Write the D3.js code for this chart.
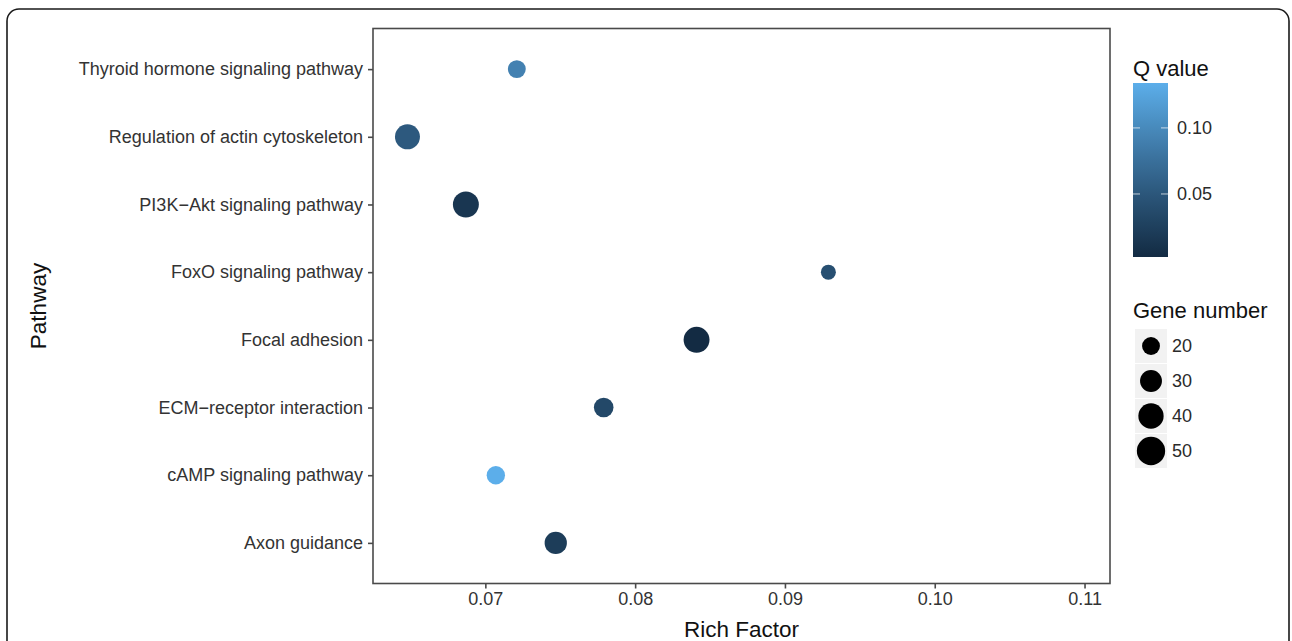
<!DOCTYPE html>
<html>
<head>
<meta charset="utf-8">
<script src="https://cdn.jsdelivr.net/npm/d3@7"></script>
<style>
  html, body { margin: 0; padding: 0; background: #fff; }
  svg { display: block; font-family: "Liberation Sans", Arial, Helvetica, sans-serif; }
</style>
</head>
<body>
<svg id="chart" width="1292" height="641"></svg>
<script>
// ---- data ----
const pathways = [
  "Thyroid hormone signaling pathway",
  "Regulation of actin cytoskeleton",
  "PI3K\u2212Akt signaling pathway",
  "FoxO signaling pathway",
  "Focal adhesion",
  "ECM\u2212receptor interaction",
  "cAMP signaling pathway",
  "Axon guidance"
];
const richFactor = [0.0721, 0.0648, 0.0687, 0.0929, 0.0841, 0.0779, 0.0707, 0.0747];
const geneNumber = [20, 39, 42, 14, 42, 24, 21, 31];
const qValue = [0.092, 0.052, 0.015, 0.042, 0.0023, 0.034, 0.134, 0.022];
const xTicks = [0.07, 0.08, 0.09, 0.10, 0.11];
const qTicks = [0.05, 0.10];
const sizeLegend = [20, 30, 40, 50];

// ---- layout ----
const svg = d3.select("#chart");
const panel = { left: 373, right: 1110, top: 28.5, bottom: 583.5 };

// outer rounded frame
svg.append("rect")
  .attr("x", 7).attr("y", 9).attr("width", 1282).attr("height", 700)
  .attr("rx", 12).attr("ry", 12)
  .attr("fill", "none").attr("stroke", "#1a1a1a").attr("stroke-width", 1.6);

const x = d3.scaleLinear().domain([0.0625, 0.1117]).range([panel.left, panel.right]);
const y = d3.scalePoint().domain(pathways).range([panel.top, panel.bottom]).padding(0.6);
const size = d3.scaleSqrt().domain([0, 50]).range([0, 14.15]);
const color = d3.scaleLinear().domain(d3.extent(qValue))
  .range(["#132B43", "#5CAEEA"]).interpolate(d3.interpolateLab);

// panel border
svg.append("rect")
  .attr("x", panel.left).attr("y", panel.top)
  .attr("width", panel.right - panel.left).attr("height", panel.bottom - panel.top)
  .attr("fill", "#fff").attr("stroke", "#4a4a4a").attr("stroke-width", 1.6);

// axes
const xAxis = svg.append("g")
  .attr("transform", `translate(0,${panel.bottom})`)
  .call(d3.axisBottom(x).tickValues(xTicks).tickFormat(d3.format(".2f")).tickSize(5).tickPadding(4));
const yAxis = svg.append("g")
  .attr("transform", `translate(${panel.left},0)`)
  .call(d3.axisLeft(y).tickSize(5).tickPadding(5));
[xAxis, yAxis].forEach(g => {
  g.select(".domain").remove();
  g.selectAll(".tick line").attr("stroke", "#4a4a4a").attr("stroke-width", 1.6);
  g.selectAll(".tick text").attr("fill", "#333").style("font-size", "18px")
    .style("font-family", "'Liberation Sans', Arial, sans-serif");
});

// axis titles
svg.append("text")
  .attr("x", (panel.left + panel.right) / 2).attr("y", 637)
  .attr("text-anchor", "middle").attr("fill", "#111").style("font-size", "22.5px")
  .text("Rich Factor");
svg.append("text")
  .attr("transform", `translate(46,${(panel.top + panel.bottom) / 2}) rotate(-90)`)
  .attr("text-anchor", "middle").attr("fill", "#111").style("font-size", "22.5px")
  .text("Pathway");

// points
const data = pathways.map((p, i) => ({ p, rf: richFactor[i], g: geneNumber[i], q: qValue[i] }));
svg.append("g").selectAll("circle").data(data).join("circle")
  .attr("cx", d => x(d.rf)).attr("cy", d => y(d.p))
  .attr("r", d => size(d.g))
  .attr("fill", d => color(d.q));

// ---- Q value colorbar ----
const bar = { x: 1133, y: 83, w: 35, h: 174 };
svg.append("text").attr("x", 1133).attr("y", 76).attr("fill", "#111")
  .style("font-size", "22px").text("Q value");
const defs = svg.append("defs");
const grad = defs.append("linearGradient").attr("id", "qgrad")
  .attr("x1", 0).attr("y1", 1).attr("x2", 0).attr("y2", 0);
const [qmin, qmax] = color.domain();
d3.range(0, 1.0001, 0.05).forEach(t => {
  grad.append("stop").attr("offset", t).attr("stop-color", color(qmin + t * (qmax - qmin)));
});
svg.append("rect").attr("x", bar.x).attr("y", bar.y).attr("width", bar.w).attr("height", bar.h)
  .attr("fill", "url(#qgrad)");
const qy = d3.scaleLinear().domain([qmin, qmax]).range([bar.y + bar.h, bar.y]);
qTicks.forEach(t => {
  const ty = qy(t);
  svg.append("line").attr("x1", bar.x).attr("x2", bar.x + bar.w / 5).attr("y1", ty).attr("y2", ty)
    .attr("stroke", "#fff").attr("stroke-opacity", 0.7).attr("stroke-width", 1);
  svg.append("line").attr("x1", bar.x + bar.w * 4 / 5).attr("x2", bar.x + bar.w).attr("y1", ty).attr("y2", ty)
    .attr("stroke", "#fff").attr("stroke-opacity", 0.7).attr("stroke-width", 1);
  svg.append("text").attr("x", bar.x + bar.w + 9).attr("y", ty).attr("dy", "0.35em")
    .attr("fill", "#2a2a2a").style("font-size", "18px").text(d3.format(".2f")(t));
});

// ---- Gene number legend ----
svg.append("text").attr("x", 1133).attr("y", 318).attr("fill", "#111")
  .style("font-size", "22px").text("Gene number");
const keyY = d3.scaleLinear().domain([0, 1]).range([346, 381]);
sizeLegend.forEach((g, i) => {
  const cy = keyY(i);
  svg.append("rect").attr("x", 1135).attr("y", cy - 17).attr("width", 32).attr("height", 34)
    .attr("fill", "#f2f2f2");
  svg.append("circle").attr("cx", 1151).attr("cy", cy).attr("r", size(g)).attr("fill", "#000");
  svg.append("text").attr("x", 1172).attr("y", cy).attr("dy", "0.35em")
    .attr("fill", "#2a2a2a").style("font-size", "18px").text(g);
});
</script>
</body>
</html>
